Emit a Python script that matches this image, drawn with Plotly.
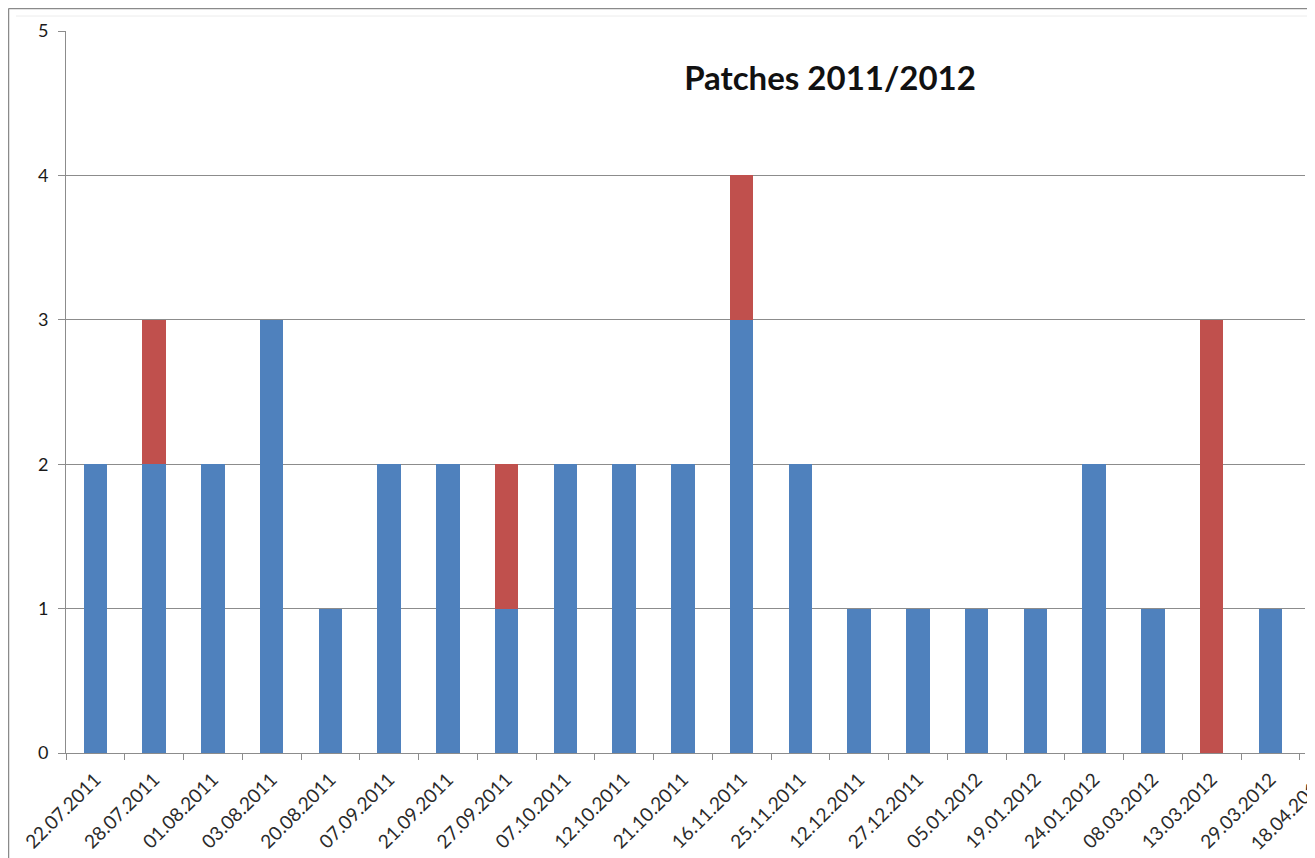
import plotly.graph_objects as go

dates = ["22.07.2011", "28.07.2011", "01.08.2011", "03.08.2011", "20.08.2011",
         "07.09.2011", "21.09.2011", "27.09.2011", "07.10.2011", "12.10.2011",
         "21.10.2011", "16.11.2011", "25.11.2011", "12.12.2011", "27.12.2011",
         "05.01.2012", "19.01.2012", "24.01.2012", "08.03.2012", "13.03.2012",
         "29.03.2012", "18.04.2012"]
blue_vals = [2, 2, 2, 3, 1, 2, 2, 1, 2, 2, 2, 3, 2, 1, 1, 1, 1, 2, 1, 0, 1, 1]
red_vals = [0, 1, 0, 0, 0, 0, 0, 1, 0, 0, 0, 1, 0, 0, 0, 0, 0, 0, 0, 3, 0, 0]
y_ticks = [0, 1, 2, 3, 4, 5]
title_text = "Patches 2011/2012"

W, H = 1307, 850
ML, MR, MT, MB = 58, 10, 23, 105
CAT_PX = 58.75
plot_w = W - ML - MR
plot_h = H - MT - MB
x_max = -0.5 + plot_w / CAT_PX

FONT = "Lato"
GRID = "#8c8c8c"
XFONT = dict(family=FONT, size=19, color="#2a2a2a")
STANDOFF = 7

fig = go.Figure()
fig.add_trace(go.Bar(x=dates, y=blue_vals, marker=dict(color="#4F81BD", line=dict(width=0)),
                     name="blue"))
fig.add_trace(go.Bar(x=dates, y=red_vals, marker=dict(color="#C0504D", line=dict(width=0)),
                     name="red"))

# partially visible last category label (cut by the right edge, as in the reference)
last_idx = len(dates) - 1
fig.add_annotation(x=(last_idx + 0.5) / (x_max + 0.5),
                   xref="x domain", y=0, yref="y",
                   text=dates[last_idx], textangle=-45, showarrow=False,
                   xanchor="right", yanchor="top", yshift=-(6 + STANDOFF), xshift=4,
                   font=XFONT)

fig.update_layout(
    width=W, height=H,
    margin=dict(l=ML, r=MR, t=MT, b=MB, autoexpand=False),
    barmode="stack", bargap=0.6,
    showlegend=False,
    plot_bgcolor="white", paper_bgcolor="white",
    title=dict(text="<b>" + title_text + "</b>", x=822 / W, y=1 - 70 / H,
               xref="container", yref="container", xanchor="center", yanchor="middle",
               font=dict(family=FONT, size=33, color="#111111")),
    xaxis=dict(type="category", range=[-0.5, x_max], showgrid=False, automargin=False,
               showline=True, linecolor=GRID, linewidth=1,
               ticks="outside", tickson="boundaries", ticklen=6, tickcolor=GRID,
               tickangle=-45, ticklabelstandoff=STANDOFF, tickfont=XFONT),
    yaxis=dict(range=[0, 5], tickvals=y_ticks, showgrid=True, gridcolor=GRID, gridwidth=1,
               showline=True, linecolor=GRID, linewidth=1, zeroline=False, automargin=False,
               ticks="outside", ticklen=7, tickcolor=GRID, ticklabelstandoff=6,
               tickfont=dict(family=FONT, size=18, color="#1a1a1a")),
    shapes=[
        dict(type="line", xref="paper", yref="paper", x0=-(ML - 0.5) / plot_w, x1=-(ML - 0.5) / plot_w,
             y0=-MB / plot_h, y1=1 + (MT - 0.5) / plot_h, line=dict(color="#8a8a8a", width=1.5)),
        dict(type="line", xref="paper", yref="paper", x0=-(ML - 0.5) / plot_w, x1=1 + MR / plot_w,
             y0=1 + (MT - 0.5) / plot_h, y1=1 + (MT - 0.5) / plot_h, line=dict(color="#8a8a8a", width=1.5)),
        dict(type="line", xref="paper", yref="paper", x0=-(ML - 8) / plot_w, x1=1 + MR / plot_w,
             y0=1 + (MT - 8) / plot_h, y1=1 + (MT - 8) / plot_h, line=dict(color="#ececec", width=1)),
    ],
)

fig.write_html("out.html")
